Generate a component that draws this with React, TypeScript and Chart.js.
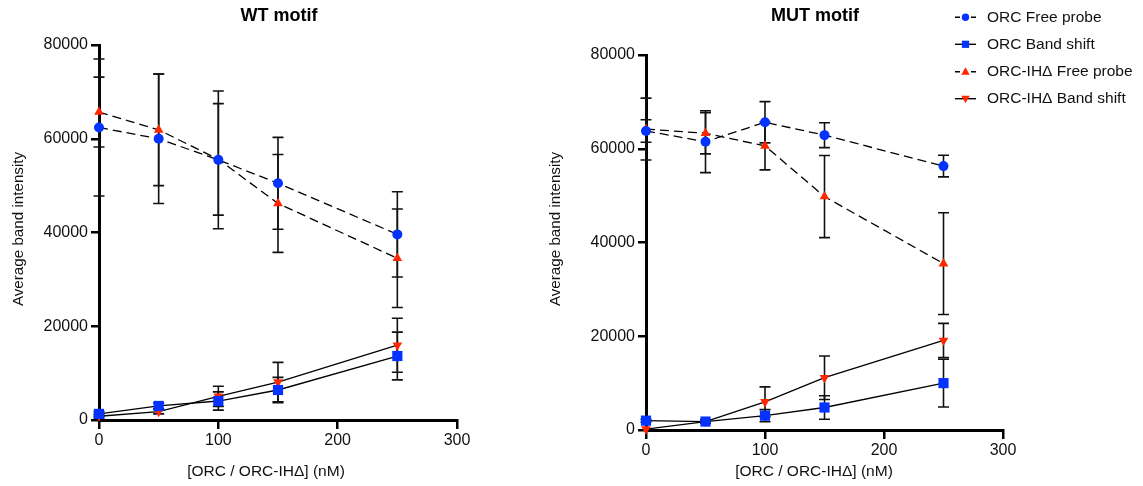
import React, { useEffect, useRef } from 'react';
import { Chart, registerables } from 'chart.js';

Chart.register(...registerables);

// ---------- data ----------
const xValues = [0, 50, 100, 150, 250];

// WT motif
const wtOrcFree = [62400, 60000, 55500, 50500, 39600];
const wtOrcFreeErr = [14600, 13800, 14700, 9800, 9100];
const wtOrcBand = [1300, 3000, 4050, 6400, 13650];
const wtOrcBandErr = [500, 600, 1950, 2700, 5100];
const wtIhFree = [65700, 61900, 55600, 46200, 34500];
const wtIhFreeErr = [7450, 11900, 11900, 10450, 10500];
const wtIhBand = [800, 1800, 5050, 8100, 15950];
const wtIhBandErr = [400, 500, 2150, 4200, 5750];

// MUT motif
const mutOrcFree = [63800, 61500, 65650, 62900, 56300];
const mutOrcFreeErr = [2400, 6600, 4400, 2650, 2300];
const mutOrcBand = [2000, 1800, 3050, 4800, 10000];
const mutOrcBandErr = [300, 300, 1300, 2500, 5100];
const mutIhFree = [64200, 63300, 60600, 49800, 35500];
const mutIhFreeErr = [6600, 4400, 5100, 8750, 10850];
const mutIhBand = [200, 1800, 6000, 11150, 19100];
const mutIhBandErr = [0, 300, 3200, 4650, 3650];

const seriesLabels = [
  'ORC Free probe',
  'ORC Band shift',
  'ORC-IH\u0394 Free probe',
  'ORC-IH\u0394 Band shift',
];
const xTickValues = [0, 100, 200, 300];
const yTickValues = [0, 20000, 40000, 60000, 80000];
const panelTitles = ['WT motif', 'MUT motif'];
const xAxisTitle = '[ORC / ORC-IH\u0394] (nM)';
const yAxisTitle = 'Average band intensity';

// ---------- styles ----------
const FONT = "'Liberation Sans', Arial, Helvetica, sans-serif";
const BLUE = '#0433FF';
const RED = '#FF2600';
const H = 486;

type Style = { color: string; pointStyle: string; rotation: number; radius: number; dashed: boolean; legendKind: string };
const styles: Style[] = [
  { color: BLUE, pointStyle: 'circle', rotation: 0, radius: 5, dashed: true, legendKind: 'circle' },
  { color: BLUE, pointStyle: 'rect', rotation: 0, radius: 7.2, dashed: false, legendKind: 'square' },
  { color: RED, pointStyle: 'triangle', rotation: 0, radius: 5.6, dashed: true, legendKind: 'up' },
  { color: RED, pointStyle: 'triangle', rotation: 180, radius: 5.6, dashed: false, legendKind: 'down' },
];

type Panel = {
  title: string;
  canvasLeft: number;
  canvasWidth: number;
  area: { left: number; top: number; right: number; bottom: number };
  titlePos: [number, number];
  yTitlePos: [number, number];
  xTitlePos: [number, number];
  values: number[][];
  errors: number[][];
  legend: boolean;
};

const panels: Panel[] = [
  {
    title: panelTitles[0],
    canvasLeft: 0,
    canvasWidth: 530,
    area: { left: 99, top: 45, right: 457, bottom: 420 },
    titlePos: [279, 16],
    yTitlePos: [18.5, 229],
    xTitlePos: [266, 472],
    values: [wtOrcFree, wtOrcBand, wtIhFree, wtIhBand],
    errors: [wtOrcFreeErr, wtOrcBandErr, wtIhFreeErr, wtIhBandErr],
    legend: false,
  },
  {
    title: panelTitles[1],
    canvasLeft: 530,
    canvasWidth: 613,
    area: { left: 116, top: 55, right: 473, bottom: 430 },
    titlePos: [285, 16],
    yTitlePos: [25.5, 229],
    xTitlePos: [284, 471.5],
    values: [mutOrcFree, mutOrcBand, mutIhFree, mutIhBand],
    errors: [mutOrcFreeErr, mutOrcBandErr, mutIhFreeErr, mutIhBandErr],
    legend: true,
  },
];

function drawLegendMarker(ctx: CanvasRenderingContext2D, kind: string, x: number, y: number, color: string) {
  ctx.fillStyle = color;
  ctx.beginPath();
  if (kind === 'circle') {
    ctx.arc(x, y, 3.7, 0, Math.PI * 2);
  } else if (kind === 'square') {
    ctx.rect(x - 3.6, y - 3.6, 7.2, 7.2);
  } else if (kind === 'up') {
    ctx.moveTo(x, y - 4.5);
    ctx.lineTo(x + 4.2, y + 3);
    ctx.lineTo(x - 4.2, y + 3);
    ctx.closePath();
  } else {
    ctx.moveTo(x, y + 4.5);
    ctx.lineTo(x + 4.2, y - 3);
    ctx.lineTo(x - 4.2, y - 3);
    ctx.closePath();
  }
  ctx.fill();
}

function makePlugin(panel: Panel) {
  return {
    id: 'panelDecor',
    beforeDatasetsDraw(chart: any) {
      const ctx: CanvasRenderingContext2D = chart.ctx;
      const xs = chart.scales.x;
      const ys = chart.scales.y;
      const cap = 5.5;
      ctx.save();
      ctx.strokeStyle = '#111';
      ctx.lineWidth = 1.6;
      panel.values.forEach((vals, si) => {
        vals.forEach((v, i) => {
          const e = panel.errors[si][i];
          if (!e) return;
          const px = xs.getPixelForValue(xValues[i]);
          const top = ys.getPixelForValue(v + e);
          const bot = ys.getPixelForValue(Math.max(v - e, 0));
          ctx.beginPath();
          ctx.moveTo(px, top);
          ctx.lineTo(px, bot);
          ctx.moveTo(px - cap, top);
          ctx.lineTo(px + cap, top);
          ctx.moveTo(px - cap, bot);
          ctx.lineTo(px + cap, bot);
          ctx.stroke();
        });
      });
      ctx.restore();
    },
    afterDraw(chart: any) {
      const ctx: CanvasRenderingContext2D = chart.ctx;
      ctx.save();
      ctx.fillStyle = '#000';
      ctx.textAlign = 'center';
      ctx.textBaseline = 'middle';
      // title
      ctx.font = `bold 18px ${FONT}`;
      ctx.fillText(panel.title, panel.titlePos[0], panel.titlePos[1]);
      // x title
      ctx.font = `15.5px ${FONT}`;
      ctx.fillStyle = '#111';
      ctx.fillText(xAxisTitle, panel.xTitlePos[0], panel.xTitlePos[1]);
      // y title
      ctx.save();
      ctx.translate(panel.yTitlePos[0], panel.yTitlePos[1]);
      ctx.rotate(-Math.PI / 2);
      ctx.font = `15.2px ${FONT}`;
      ctx.fillText(yAxisTitle, 0, 0);
      ctx.restore();
      // legend
      if (panel.legend) {
        const x0 = 955 - panel.canvasLeft;
        const x1 = 976 - panel.canvasLeft;
        const xm = 965.5 - panel.canvasLeft;
        const xt = 987 - panel.canvasLeft;
        const rows = [17.3, 44.3, 71.7, 98.7];
        seriesLabels.forEach((lab, i) => {
          const st = styles[i];
          const y = rows[i];
          ctx.strokeStyle = '#000';
          ctx.lineWidth = 1.4;
          ctx.beginPath();
          if (st.dashed) {
            ctx.moveTo(x0, y);
            ctx.lineTo(x0 + 5, y);
            ctx.moveTo(x1 - 5, y);
            ctx.lineTo(x1, y);
          } else {
            ctx.moveTo(x0, y);
            ctx.lineTo(x1, y);
          }
          ctx.stroke();
          drawLegendMarker(ctx, st.legendKind, xm, y, st.color);
          ctx.fillStyle = '#111';
          ctx.textAlign = 'left';
          ctx.font = `15.5px ${FONT}`;
          ctx.fillText(lab, xt, y + 0.5);
        });
      }
      ctx.restore();
    },
  };
}

function PanelChart({ panel }: { panel: Panel }) {
  const ref = useRef<HTMLCanvasElement | null>(null);
  useEffect(() => {
    if (!ref.current) return;
    const { area, canvasWidth } = panel;
    const datasets = panel.values.map((vals, si) => {
      const st = styles[si];
      return {
        label: seriesLabels[si],
        data: xValues.map((x, i) => ({ x, y: vals[i] })),
        borderColor: '#000',
        borderWidth: 1.3,
        borderDash: st.dashed ? [9, 5] : [],
        pointStyle: st.pointStyle,
        rotation: st.rotation,
        pointRadius: st.radius,
        pointHoverRadius: st.radius,
        pointBackgroundColor: st.color,
        pointBorderColor: st.color,
        pointBorderWidth: 0,
        tension: 0,
        fill: false,
        clip: false,
      };
    });
    const tickFont = { family: FONT, size: 16 };
    const chart = new Chart(ref.current, {
      type: 'line',
      data: { datasets } as any,
      options: {
        animation: false,
        responsive: false,
        devicePixelRatio: 1,
        events: [],
        layout: { padding: { left: 0, top: area.top, right: canvasWidth - area.right, bottom: 0 } },
        plugins: {
          legend: { display: false },
          tooltip: { enabled: false },
          title: { display: false },
        },
        scales: {
          x: {
            type: 'linear',
            min: 0,
            max: 300,
            afterFit: (s: any) => {
              s.height = H - area.bottom;
            },
            afterBuildTicks: (s: any) => {
              s.ticks = xTickValues.map((v) => ({ value: v }));
            },
            ticks: { font: tickFont, color: '#111', padding: 2, maxRotation: 0, callback: (v: any) => String(v) },
            grid: { drawOnChartArea: false, drawTicks: true, tickLength: 9, lineWidth: 2.5, color: '#000' },
            border: { display: true, width: 3, color: '#000' },
          },
          y: {
            type: 'linear',
            min: 0,
            max: 80000,
            afterFit: (s: any) => {
              s.width = area.left;
            },
            afterBuildTicks: (s: any) => {
              s.ticks = yTickValues.map((v) => ({ value: v }));
            },
            ticks: { font: tickFont, color: '#111', padding: 3, callback: (v: any) => String(v) },
            grid: { drawOnChartArea: false, drawTicks: true, tickLength: 8, lineWidth: 2.5, color: '#000' },
            border: { display: true, width: 3, color: '#000' },
          },
        },
      } as any,
      plugins: [makePlugin(panel) as any],
    });
    return () => chart.destroy();
  }, [panel]);
  return (
    <canvas
      ref={ref}
      width={panel.canvasWidth}
      height={H}
      style={{ position: 'absolute', left: panel.canvasLeft, top: 0, width: panel.canvasWidth, height: H }}
    />
  );
}

export default function App() {
  return (
    <div style={{ position: 'fixed', left: 0, top: 0, width: 1143, height: H, background: '#fff' }}>
      {panels.map((p) => (
        <PanelChart key={p.title} panel={p} />
      ))}
    </div>
  );
}
